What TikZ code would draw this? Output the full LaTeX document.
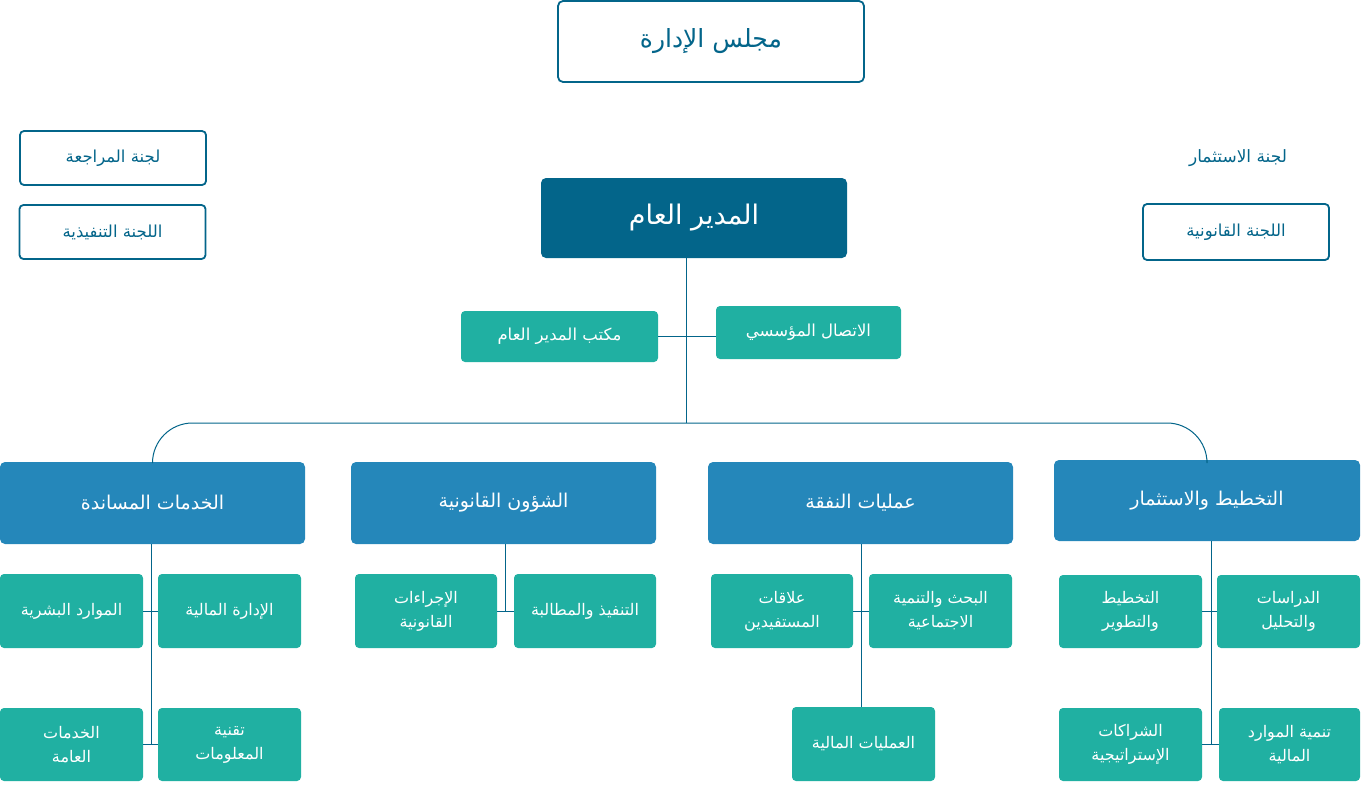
\documentclass[tikz,border=0pt]{standalone}
\usepackage{fontspec}
\newfontfamily\arabicfont[Script=Arabic]{DejaVu Sans}
\TeXXeTstate=1
\newcommand{\rtl}[1]{\beginR#1\endR}

\definecolor{navy}{HTML}{03658A}
\definecolor{deptblue}{HTML}{2587BA}
\definecolor{unitteal}{HTML}{20B0A2}

\begin{document}
\begin{tikzpicture}[
  x=1pt, y=-1pt,
  board/.style={draw=navy, line width=1.8pt, rounded corners=5pt, fill=white, text=navy, align=center, minimum width=306pt, minimum height=81pt, font=\arabicfont\fontsize{25}{30}\selectfont},
  committee/.style={draw=navy, line width=1.8pt, rounded corners=4pt, fill=white, text=navy, align=center, minimum width=186pt, minimum height=54pt, font=\arabicfont\fontsize{16.5}{20}\selectfont},
  note/.style={text=navy, align=center, font=\arabicfont\fontsize{17}{20}\selectfont},
  head/.style={fill=navy, rounded corners=5pt, text=white, align=center, minimum width=306pt, minimum height=80pt, font=\arabicfont\fontsize{27}{32}\selectfont},
  dept/.style={fill=deptblue, rounded corners=5pt, text=white, align=center, minimum width=305pt, minimum height=82pt, font=\arabicfont\fontsize{19}{24}\selectfont},
  unit/.style={fill=unitteal, rounded corners=4pt, text=white, align=center, minimum width=143pt, minimum height=74pt, font=\arabicfont\fontsize{16}{24}\selectfont},
  office/.style={unit, minimum height=52pt, font=\arabicfont\fontsize{16.5}{20}\selectfont},
  link/.style={draw=navy, line width=1pt}
]
\useasboundingbox (0,0) rectangle (1362,798);

% top of the chart
\node[board] (board) at (711,41.5) {\rtl{مجلس الإدارة}};
\node[committee] (audit) at (113,158) {\rtl{لجنة المراجعة}};
\node[committee] (exec) at (112.5,232) {\rtl{اللجنة التنفيذية}};
\node[note] (invest) at (1238,158) {\rtl{لجنة الاستثمار}};
\node[committee, minimum height=56pt] (legalc) at (1236,232) {\rtl{اللجنة القانونية}};

\node[head] (gm) at (694,218) {\rtl{المدير العام}};
\node[office, minimum width=197pt, minimum height=51pt] (office) at (559.5,336.5) {\rtl{مكتب المدير العام}};
\node[office, minimum width=185pt, minimum height=53pt] (comm) at (808.5,332.5) {\rtl{الاتصال المؤسسي}};
\coordinate (bus) at (686,423);

% departments
\node[dept] (sup) at (152.5,503) {\rtl{الخدمات المساندة}};
\node[dept] (leg) at (503.5,503) {\rtl{الشؤون القانونية}};
\node[dept] (exp) at (860.5,503) {\rtl{عمليات النفقة}};
\node[dept, minimum width=306pt, minimum height=81pt] (plan) at (1207,500.5) {\rtl{التخطيط والاستثمار}};

% units
\node[unit] (hr) at (71.5,611) {\rtl{الموارد البشرية}};
\node[unit] (fin) at (229.5,611) {\rtl{الإدارة المالية}};
\node[unit, minimum height=73pt] (gen) at (71.5,744.5) {\rtl{الخدمات}\\\rtl{العامة}};
\node[unit, minimum height=73pt] (it) at (229.5,744.5) {\rtl{تقنية}\\\rtl{المعلومات}};

\node[unit, minimum width=142pt] (proc) at (426,611) {\rtl{الإجراءات}\\\rtl{القانونية}};
\node[unit, minimum width=142pt] (enf) at (585,611) {\rtl{التنفيذ والمطالبة}};

\node[unit, minimum width=142pt] (ben) at (782,611) {\rtl{علاقات}\\\rtl{المستفيدين}};
\node[unit] (res) at (940.5,611) {\rtl{البحث والتنمية}\\\rtl{الاجتماعية}};
\node[unit] (finops) at (863.5,744) {\rtl{العمليات المالية}};

\node[unit, minimum height=73pt] (pdev) at (1130.5,611.5) {\rtl{التخطيط}\\\rtl{والتطوير}};
\node[unit, minimum height=73pt] (stud) at (1288.5,611.5) {\rtl{الدراسات}\\\rtl{والتحليل}};
\node[unit, minimum height=73pt] (part) at (1130.5,744.5) {\rtl{الشراكات}\\\rtl{الإستراتيجية}};
\node[unit, minimum width=141pt, minimum height=73pt] (fres) at (1289.5,744.5) {\rtl{تنمية الموارد}\\\rtl{المالية}};

% connectors
\draw[link] (gm.south -| bus) -- (bus);
\draw[link] (office.east) -- (office.east -| comm.west);
\draw[link, rounded corners=40pt] (sup.north) |- (bus) -| (plan.north);

\draw[link] (sup.south -| 151,0) -- (151,0 |- gen.east);
\draw[link] (hr.east) -- (fin.west);
\draw[link] (gen.east) -- (it.west);

\draw[link] (leg.south -| 505,0) -- (505,0 |- proc.east);
\draw[link] (proc.east) -- (enf.west);

\draw[link] (exp.south -| 861,0) -- (861,0 |- finops.north);
\draw[link] (ben.east) -- (res.west);

\draw[link] (plan.south -| 1211,0) -- (1211,0 |- part.east);
\draw[link] (pdev.east) -- (stud.west);
\draw[link] (part.east) -- (fres.west);

\end{tikzpicture}
\end{document}
